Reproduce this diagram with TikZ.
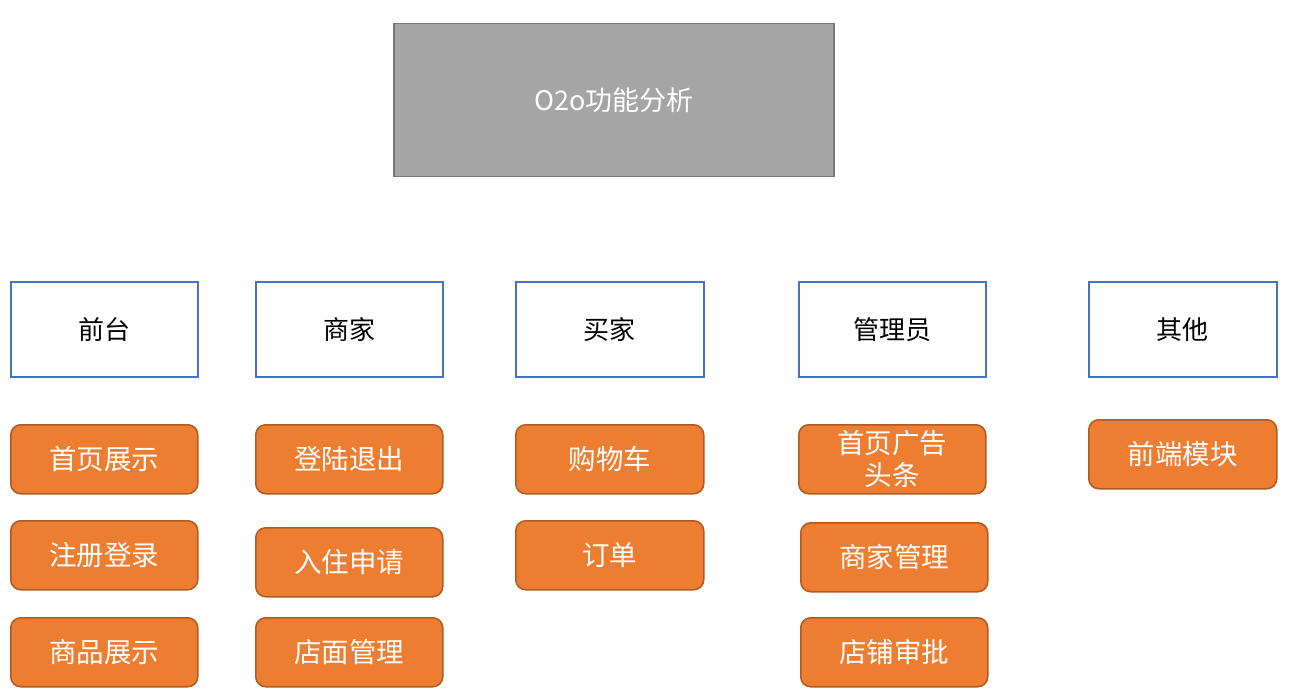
\documentclass[tikz,border=0pt]{standalone}
\usepackage{fontspec}
\setmainfont{Noto Sans CJK SC}
\definecolor{titlefill}{HTML}{A5A5A5}
\definecolor{titleline}{HTML}{787878}
\definecolor{catline}{HTML}{4472C4}
\definecolor{orfill}{HTML}{ED7D31}
\definecolor{orline}{HTML}{AE5A21}
\tikzset{
  titlebox/.style={draw=titleline, fill=titlefill, line width=1.5pt, text=white, anchor=north west, inner sep=0pt, font=\fontsize{27}{31}\selectfont},
  catbox/.style={draw=catline, line width=1.5pt, fill=white, text=black, anchor=north west, inner sep=0pt, minimum width=187pt, minimum height=95pt, font=\fontsize{26}{30}\selectfont},
  orbox/.style={draw=orline, fill=orfill, line width=1.5pt, rounded corners=10pt, text=white, anchor=north west, inner sep=0pt, minimum width=187pt, minimum height=69pt, align=center, font=\fontsize{27.5}{31}\selectfont},
}
\begin{document}
\begin{tikzpicture}[x=1pt,y=-1pt]
\useasboundingbox (0,0) rectangle (1294,698);
\node[titlebox, minimum width=440pt, minimum height=153pt] (title) at (393,23) {O2o功能分析};
\node[catbox] (c1) at (10,281) {前台};
\node[catbox] (c2) at (255,281) {商家};
\node[catbox, minimum width=188pt] (c3) at (515,281) {买家};
\node[catbox] (c4) at (798,281) {管理员};
\node[catbox, minimum width=188pt] (c5) at (1088,281) {其他};
\node[orbox] (a1) at (10,424) {首页展示};
\node[orbox] (a2) at (10,520) {注册登录};
\node[orbox] (a3) at (10,617) {商品展示};
\node[orbox] (b1) at (255,424) {登陆退出};
\node[orbox] (b2) at (255,527) {入住申请};
\node[orbox] (b3) at (255,617) {店面管理};
\node[orbox, minimum width=188pt] (d1) at (515,424) {购物车};
\node[orbox, minimum width=188pt] (d2) at (515,520) {订单};
\node[orbox, font=\fontsize{27.5}{32}\selectfont] (e1) at (798,424) {首页广告\\头条};
\node[orbox] (e2) at (800,522) {商家管理};
\node[orbox] (e3) at (800,617) {店铺审批};
\node[orbox, minimum width=188pt] (f1) at (1088,419) {前端模块};
\end{tikzpicture}
\end{document}
